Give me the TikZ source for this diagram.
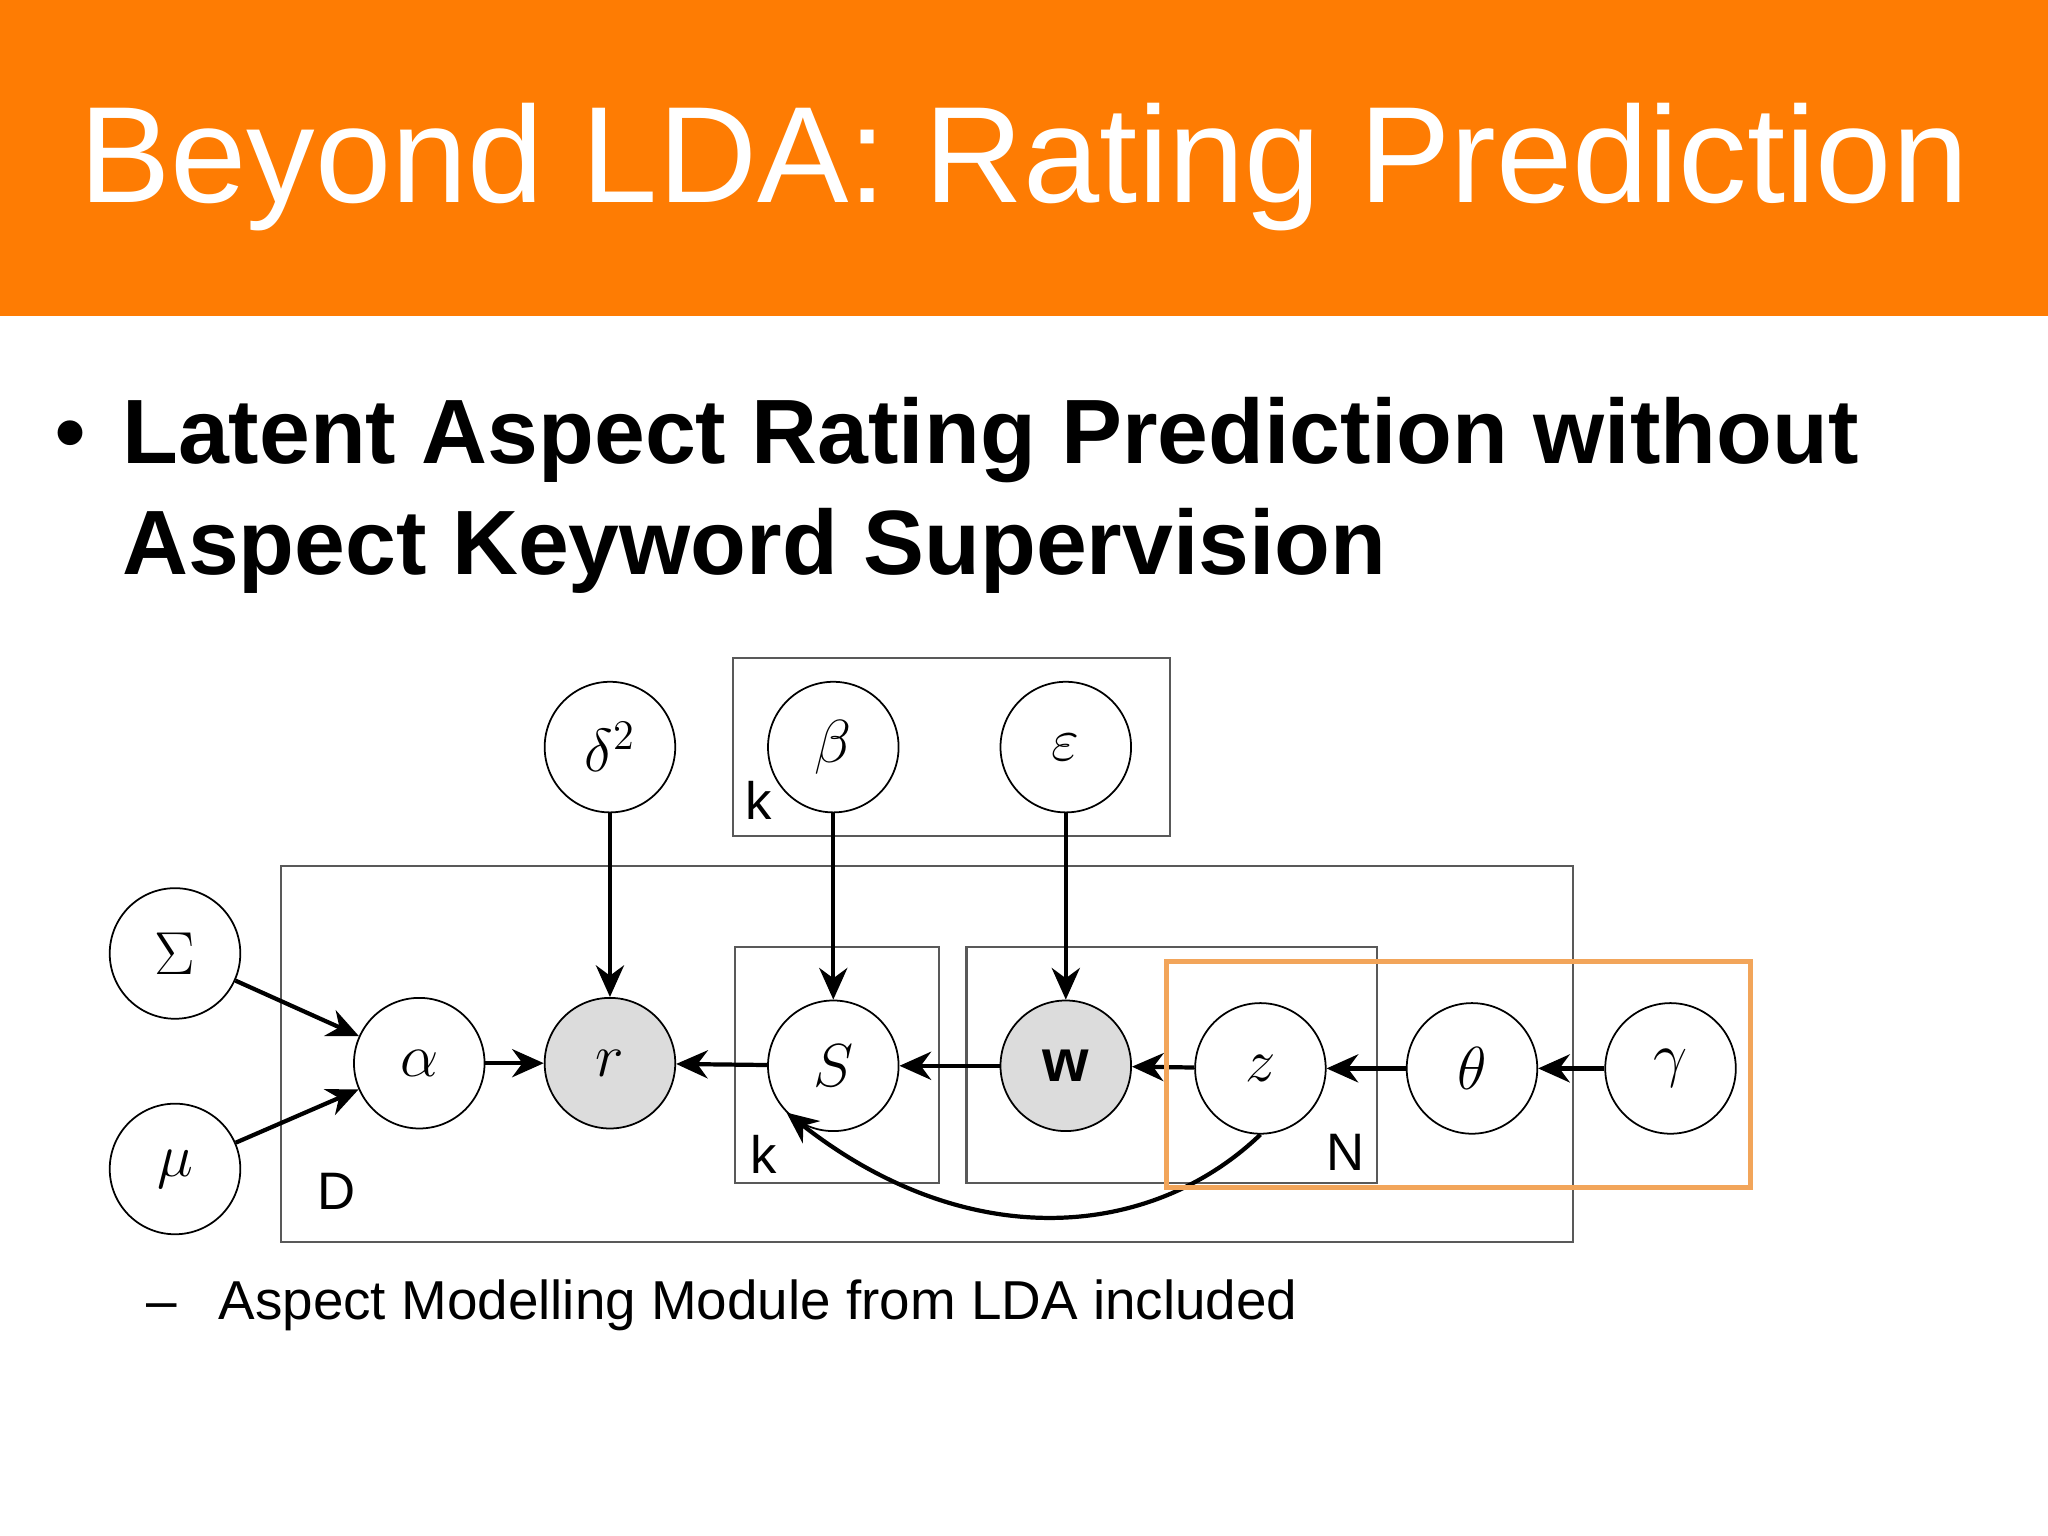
\documentclass[tikz,border=0pt]{standalone}
\usepackage{fontspec}
\setmainfont{Liberation Sans}
\usetikzlibrary{arrows.meta}
\definecolor{bannerorange}{HTML}{FE7C03}
\definecolor{hilite}{HTML}{F2A55A}
\definecolor{nodegray}{HTML}{DCDCDC}
\begin{document}
\begin{tikzpicture}[x=0.013061cm,y=-0.013061cm,
  var/.style={circle,draw,line width=0.5pt,minimum size=100\pgflinewidth,inner sep=0pt,minimum size=1.306cm,font=\fontsize{17}{20}\selectfont},
  obs/.style={var,fill=nodegray},
  plate/.style={draw,line width=0.6pt,gray!70!black},
  arr/.style={-{Stealth[length=9pt,width=8pt]},line width=1.2pt},
  lbl/.style={font=\fontsize{15}{18}\selectfont,inner sep=0pt}]
\useasboundingbox (0,0) rectangle (1568,1176);
\fill[bannerorange] (0,0) rectangle (1568,242);
\node[white,font=\fontsize{39}{44}\selectfont] (title) at (784,128) {Beyond LDA: Rating Prediction};
\node[font=\fontsize{26}{30}\selectfont,anchor=base west] (bullet) at (32,355) {•};
\node[font=\fontsize{26}{30}\selectfont\bfseries,anchor=base west,inner sep=0pt] (b1) at (93,355) {Latent Aspect Rating Prediction without};
\node[font=\fontsize{26}{30}\selectfont\bfseries,anchor=base west,inner sep=0pt] (b2) at (93,440) {Aspect Keyword Supervision};
% plates
\draw[plate] (561,504) rectangle (896,640);
\draw[plate] (215,663) rectangle (1204,951);
\draw[plate] (563,725) rectangle (719,906);
\draw[plate] (740,725) rectangle (1054,906);
\node[lbl] (lk1) at (581,613) {k};
\node[lbl] (lD) at (258,912) {D};
\node[lbl] (lk2) at (585,884) {k};
\node[lbl] (lN) at (1030,882) {N};
% nodes
\node[var] (d2) at (467,572) {$\delta^2$};
\node[var] (beta) at (638,572) {$\beta$};
\node[var] (eps) at (816,572) {$\varepsilon$};
\node[var] (Sig) at (134,730) {$\Sigma$};
\node[var] (mu) at (134,895) {$\mu$};
\node[var] (alpha) at (321,814) {$\alpha$};
\node[obs] (r) at (467,814) {$r$};
\node[var] (S) at (638,816) {$S$};
\node[obs] (w) at (816,816) {$\mathbf{w}$};
\node[var] (z) at (965,818) {$z$};
\node[var] (th) at (1127,818) {$\theta$};
\node[var] (gam) at (1279,818) {$\gamma$};
% arrows
\draw[arr] (d2) -- (r);
\draw[arr] (beta) -- (S);
\draw[arr] (eps) -- (w);
\draw[arr] (Sig) -- (alpha);
\draw[arr] (mu) -- (alpha);
\draw[arr] (alpha) -- (r);
\draw[arr] (S) -- (r);
\draw[arr] (w) -- (S);
\draw[arr] (z) -- (w);
\draw[arr] (th) -- (z);
\draw[arr] (gam) -- (th);
\draw[arr] (z.south) .. controls (880,950) and (740,960) .. (S.south west);
% highlight
\draw[hilite,line width=1.5pt] (893,736) rectangle (1340,909);
\node[font=\fontsize{15.6}{18}\selectfont,anchor=base west,inner sep=0pt] (sub) at (112,1010) {–\hspace{0.75em}Aspect Modelling Module from LDA included};
\end{tikzpicture}
\end{document}
